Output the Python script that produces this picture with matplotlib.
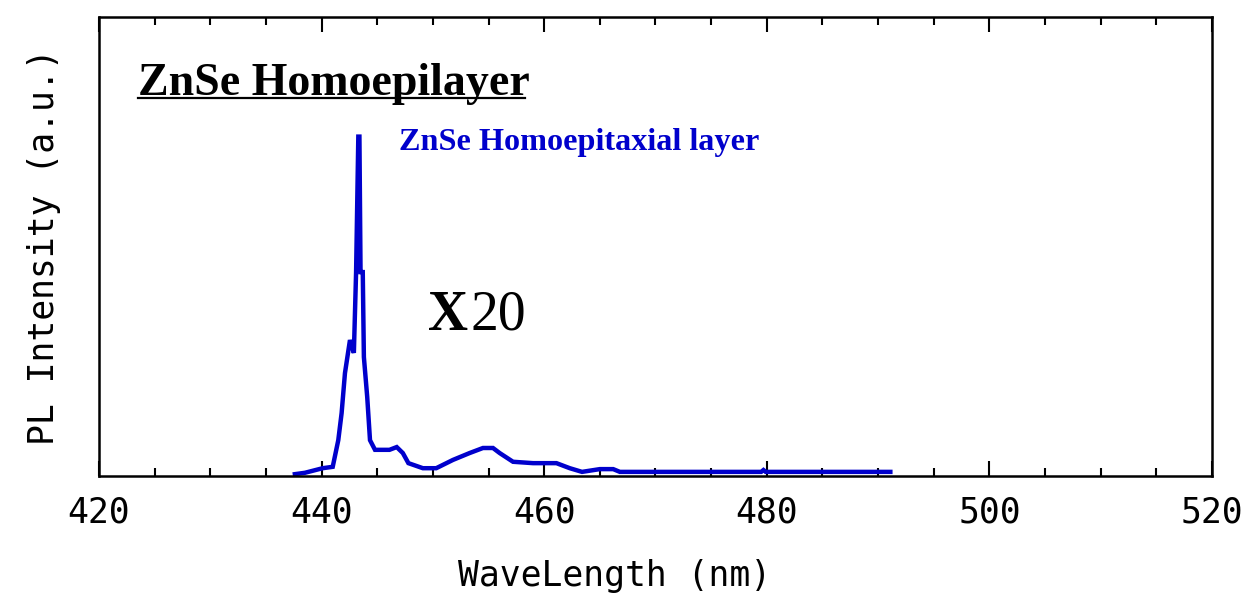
import matplotlib
matplotlib.use("Agg")
import matplotlib.pyplot as plt
from matplotlib.ticker import MultipleLocator
from matplotlib.lines import Line2D

# PL spectrum (wavelength in nm, intensity in a.u.)
wavelength = [437.6, 438.5, 440.1, 441.0, 441.5, 441.8, 442.1, 442.55, 442.9,
              443.1, 443.3, 443.4, 443.5, 443.7, 443.8, 444.1, 444.35, 444.8,
              446.1, 446.75, 447.3, 447.8, 449.1, 450.3, 451.8, 453.3, 454.5,
              455.4, 456.0, 457.2, 459.0, 461.1, 462.3, 463.4, 465.0, 466.2,
              466.8, 479.5, 479.7, 479.9, 491.1]
intensity = [0.4, 0.7, 1.7, 2.0, 7.8, 13.7, 22.4, 29.6, 26.8,
             44.4, 73.9, 73.9, 44.4, 44.4, 25.9, 17.2, 7.8, 5.7,
             5.7, 6.3, 5.0, 2.8, 1.7, 1.7, 3.5, 5.0, 6.1,
             6.1, 5.0, 3.1, 2.8, 2.8, 1.7, 0.9, 1.5, 1.5,
             0.9, 0.9, 1.3, 0.9, 0.9]

title = "ZnSe Homoepilayer"
series_label = "ZnSe Homoepitaxial layer"
xticks = [420, 440, 460, 480, 500, 520]

mono = ["DejaVu Sans Mono"]
serif = ["Liberation Serif", "DejaVu Serif"]

fig = plt.figure(figsize=(12.45, 5.98), dpi=100)
ax = fig.add_axes([0.0795, 0.204, 0.894, 0.768])

ax.plot(wavelength, intensity, color="#0000cc", lw=3.2, solid_joinstyle="miter")

ax.set_xlim(420, 520)
ax.set_ylim(0, 100)
ax.set_xticks(xticks)
ax.xaxis.set_minor_locator(MultipleLocator(5))
ax.set_yticks([])
ax.tick_params(axis="x", which="both", direction="in", top=True, bottom=True,
               width=1.5, pad=14)
ax.tick_params(axis="x", which="major", length=11)
ax.tick_params(axis="x", which="minor", length=5.5)
for lab in ax.get_xticklabels():
    lab.set_fontfamily(mono)
    lab.set_fontsize(25)
for sp in ax.spines.values():
    sp.set_linewidth(1.8)

ax.set_xlabel("WaveLength (nm)", family=mono, fontsize=25)
ax.xaxis.set_label_coords(0.463, -0.18)
ax.set_ylabel("PL Intensity (a.u.)", family=mono, fontsize=25)
ax.yaxis.set_label_coords(-0.034, 0.5)

# underlined panel title
ax.text(0.035, 0.83, title, transform=ax.transAxes, family=serif,
        weight="bold", fontsize=33, va="baseline", ha="left")
ax.add_line(Line2D([0.035, 0.383], [0.822, 0.822], transform=ax.transAxes,
                   color="black", lw=1.6))

ax.text(0.27, 0.71, series_label, transform=ax.transAxes, family=serif,
        weight="bold", fontsize=23.2, color="#0000cc", va="baseline", ha="left")

ax.text(0.296, 0.318, "X", transform=ax.transAxes, family=serif,
        weight="bold", fontsize=40, va="baseline", ha="left")
ax.text(0.334, 0.318, "20", transform=ax.transAxes, family=serif,
        fontsize=40, va="baseline", ha="left")

fig.savefig("out.png", dpi=100, facecolor="white")
